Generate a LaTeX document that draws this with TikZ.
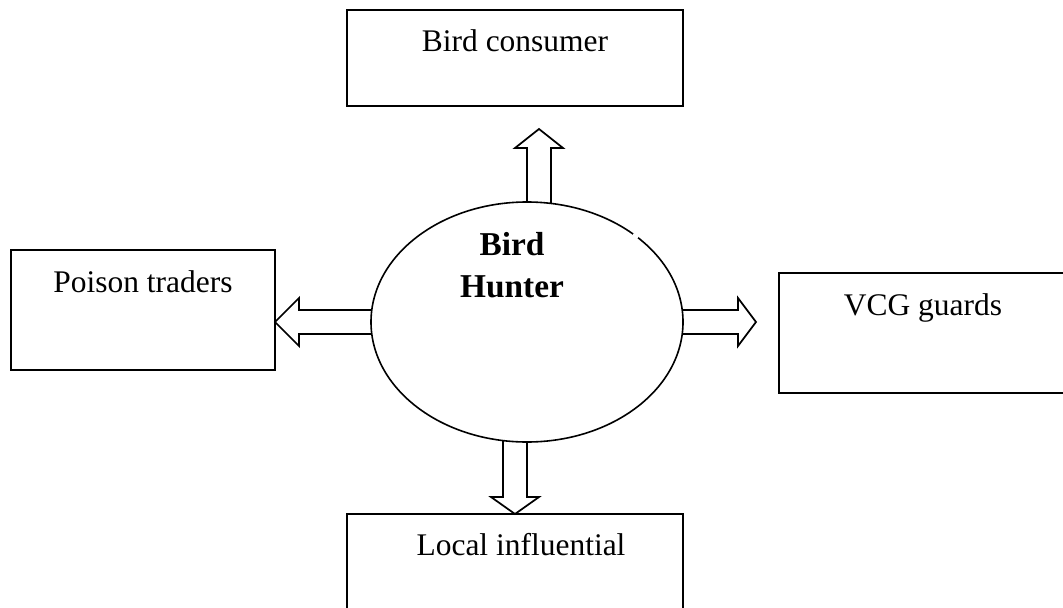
\documentclass[tikz,border=0pt]{standalone}
\usepackage{fontspec}
\setmainfont{Liberation Serif}
\usetikzlibrary{calc,backgrounds,shapes.geometric}
\begin{document}
\begin{tikzpicture}[x=0.75pt,y=-0.75pt,
  box/.style={draw,rectangle,line width=1.5pt,inner sep=0pt,outer sep=0pt,anchor=north west},
  boxtext/.style={anchor=base,inner sep=0pt,font=\fontsize{23.6}{28}\selectfont},
  hub/.style={draw,ellipse,line width=1.2pt,fill=white,inner sep=0pt,outer sep=0pt,
    minimum width=234pt,minimum height=180pt},
  hubtext/.style={align=center,inner sep=0pt,
    font=\fontsize{25}{31.5}\selectfont\bfseries},
  blockarrow/.style={draw,fill=white,line width=1.3pt,line join=miter}]
\path[use as bounding box] (0,0) rectangle (1063,607);
\clip (0,0) rectangle (1063,607);

% outer boxes
\node[box,minimum width=252pt,minimum height=72pt] (bc) at (347,10) {};
\node[box,minimum width=198pt,minimum height=90pt] (pt) at (11,250) {};
\node[box,minimum width=216pt,minimum height=90pt] (vcg) at (779,273) {};
\node[box,minimum width=252pt,minimum height=82pt] (lc) at (347,514) {};

\node[boxtext] (bct) at ($(bc.north)+(0,41)$) {Bird consumer};
\node[boxtext] (ptt) at ($(pt.north)+(0,42)$) {Poison traders};
\node[boxtext] (vcgt) at ($(vcg.north)+(0,42)$) {VCG guards};
\node[boxtext] (lct) at ($(lc.north)+(6,41)$) {Local influential};

% central ellipse
\node[hub] (ell) at (527,322) {};
\node[hubtext] (hunter) at (512,265) {Bird\\Hunter};
\fill[white] (635.5,236) circle (3.2);

% block arrows behind the ellipse
\begin{scope}[on background layer]
  % up
  \coordinate (uptip) at ($(bc.south)+(24,23)$);
  \coordinate (upbase) at ($(uptip |- ell.north)+(0,20)$);
  \draw[blockarrow] ($(upbase)+(-12,0)$) -- ($(uptip)+(-12,19)$) -- ($(uptip)+(-24,19)$)
    -- (uptip) -- ($(uptip)+(24,19)$) -- ($(uptip)+(12,19)$) -- ($(upbase)+(12,0)$);
  % down
  \coordinate (dntip) at (lc.north);
  \coordinate (dnbase) at ($(dntip |- ell.south)+(0,-20)$);
  \draw[blockarrow] ($(dnbase)+(-12,0)$) -- ($(dntip)+(-12,-17)$) -- ($(dntip)+(-24,-17)$)
    -- (dntip) -- ($(dntip)+(24,-17)$) -- ($(dntip)+(12,-17)$) -- ($(dnbase)+(12,0)$);
  % left
  \coordinate (ltip) at (pt.east |- ell.west);
  \coordinate (lbase) at ($(ell.west)+(20,0)$);
  \draw[blockarrow] ($(lbase)+(0,-12)$) -- ($(ltip)+(24,-12)$) -- ($(ltip)+(24,-24)$)
    -- (ltip) -- ($(ltip)+(24,24)$) -- ($(ltip)+(24,12)$) -- ($(lbase)+(0,12)$);
  % right
  \coordinate (rtip) at ($(vcg.west |- ell.east)+(-23,0)$);
  \coordinate (rbase) at ($(ell.east)+(-20,0)$);
  \draw[blockarrow] ($(rbase)+(0,-12)$) -- ($(rtip)+(-18,-12)$) -- ($(rtip)+(-18,-24)$)
    -- (rtip) -- ($(rtip)+(-18,24)$) -- ($(rtip)+(-18,12)$) -- ($(rbase)+(0,12)$);
\end{scope}
\end{tikzpicture}
\end{document}
